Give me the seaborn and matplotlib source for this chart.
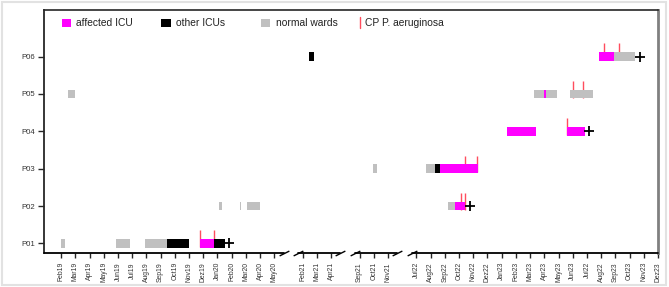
import calendar

import matplotlib as mpl
import matplotlib.pyplot as plt
import matplotlib.transforms as mtransforms
from matplotlib.patches import Rectangle
import pandas as pd
import seaborn as sns

mpl.use("Agg")
sns.set_style("ticks")
plt.rcParams["font.family"] = ["Liberation Sans", "DejaVu Sans"]

patients = ["P01", "P02", "P03", "P04", "P05", "P06"]

# compressed time axis: (first month, number of months) per visible segment
segments = [((2019, 2), 16), ((2021, 2), 3), ((2021, 9), 3), ((2022, 7), 18)]

tick_labels = [
    "Feb19", "Mar19", "Apr19", "May19", "Jun19", "Jul19", "Aug19", "Sep19",
    "Oct19", "Nov19", "Dez19", "Jan20", "Feb20", "Mar20", "Apr20", "May20",
    "Feb21", "Mar21", "Apr21",
    "Sep21", "Oct21", "Nov21",
    "Jul22", "Aug22", "Sep22", "Oct22", "Nov22", "Dez22", "Jan23", "Feb23",
    "Mar23", "Apr23", "May23", "Jun23", "Jul22", "Aug22", "Sep23", "Oct23",
    "Nov23", "Dez23",
]

# hospital stays
stay_patient = [
    "P01", "P01", "P01", "P01", "P01", "P01",
    "P02", "P02", "P02", "P02", "P02",
    "P03", "P03", "P03", "P03",
    "P04", "P04",
    "P05", "P05", "P05", "P05",
    "P06", "P06", "P06",
]
stay_ward = [
    "normal", "normal", "normal", "other", "affected", "other",
    "normal", "normal", "normal", "normal", "affected",
    "normal", "normal", "other", "affected",
    "affected", "affected",
    "normal", "normal", "affected", "normal",
    "other", "affected", "normal",
]
stay_start = [
    "2019-02-01", "2019-05-28", "2019-07-30", "2019-09-15", "2019-11-25", "2019-12-24",
    "2020-01-04", "2020-02-19", "2020-03-03", "2022-09-08", "2022-09-22",
    "2021-09-30", "2022-07-22", "2022-08-10", "2022-08-22",
    "2023-01-12", "2023-05-20",
    "2019-02-15", "2023-03-10", "2023-03-31", "2023-05-25",
    "2021-02-13", "2023-07-27", "2023-08-29",
]
stay_end = [
    "2019-02-08", "2019-06-26", "2019-09-15", "2019-10-31", "2019-12-24", "2020-01-17",
    "2020-01-11", "2020-02-21", "2020-03-31", "2022-09-22", "2022-10-13",
    "2021-10-07", "2022-08-10", "2022-08-22", "2022-11-12",
    "2023-03-13", "2023-06-26",
    "2019-02-28", "2023-04-27", "2023-04-04", "2023-07-14",
    "2021-02-23", "2023-08-29", "2023-10-12",
]

# CP P. aeruginosa isolates
isolate_patient = ["P01", "P01", "P02", "P02", "P03", "P03", "P04", "P05", "P05", "P06", "P06"]
isolate_date = [
    "2019-11-25", "2019-12-25", "2022-10-06", "2022-10-13", "2022-10-15",
    "2022-11-09", "2023-05-20", "2023-06-02", "2023-06-22", "2023-08-08", "2023-09-09",
]

# deaths
death_patient = ["P01", "P02", "P04", "P06"]
death_date = ["2020-01-26", "2022-10-25", "2023-07-05", "2023-10-23"]

ward_colors = {"affected": "#ff00ff", "other": "#000000", "normal": "#c0c0c0"}
red = "#ff4d5e"


def seg_starts():
    starts, p = [], 0
    for _, n in segments:
        starts.append(p)
        p += n + 1
    return starts


def date_pos(s):
    d = pd.Timestamp(s)
    for ((y0, m0), n), p0 in zip(segments, seg_starts()):
        k = (d.year - y0) * 12 + (d.month - m0)
        if 0 <= k < n:
            ndays = calendar.monthrange(d.year, d.month)[1]
            return p0 + k + (d.day - 1) / ndays
    raise ValueError(s)


ypos = {p: i + 1 for i, p in enumerate(patients)}

stays = pd.DataFrame(
    {"patient": stay_patient, "ward": stay_ward, "start": stay_start, "end": stay_end}
)
stays["x0"] = stays["start"].map(date_pos)
stays["x1"] = stays["end"].map(date_pos)
stays["y"] = stays["patient"].map(ypos)

iso = pd.DataFrame({"patient": isolate_patient, "date": isolate_date})
iso["x"] = iso["date"].map(date_pos)
iso["y"] = iso["patient"].map(ypos)

dead = pd.DataFrame({"patient": death_patient, "date": death_date})
dead["x"] = dead["date"].map(date_pos)
dead["y"] = dead["patient"].map(ypos)

fig = plt.figure(figsize=(6.69, 2.87), dpi=100)
ax = fig.add_axes([0.0658, 0.1185, 0.9178, 0.8465])

bar_h = 0.23
ax.vlines(iso["x"], iso["y"] - 0.1, iso["y"] + 0.35, color=red, lw=1.0, zorder=1)
for _, r in stays.iterrows():
    ax.barh(r["y"], r["x1"] - r["x0"], left=r["x0"], height=bar_h,
            color=ward_colors[r["ward"]], linewidth=0, zorder=2)
sns.scatterplot(data=dead, x="x", y="y", marker="+", s=60, color="k",
                linewidth=1.3, ax=ax, zorder=3, legend=False)

# axes
starts = seg_starts()
ticks = [p0 + k for p0, (_, n) in zip(starts, segments) for k in range(n)]
ax.set_xticks(ticks)
ax.set_xticklabels(tick_labels, rotation=90, fontsize=4.9, color="#333333")
ax.set_yticks(range(1, len(patients) + 1))
ax.set_yticklabels(patients, fontsize=5.6, color="#333333")
ax.set_xlim(-1.2, ticks[-1])
ax.set_ylim(0.745, 7.245)
ax.set_xlabel("")
ax.set_ylabel("")
ax.tick_params(axis="x", length=3.5, width=1.0, pad=3)
ax.tick_params(axis="y", length=4.2, width=1.0, pad=2.5)

ax.spines["top"].set_linewidth(1.2)
ax.spines["left"].set_linewidth(1.3)
ax.spines["right"].set_color("#808080")
ax.spines["right"].set_linewidth(2.0)
ax.spines["bottom"].set_visible(False)

# broken bottom axis with // marks
trans = mtransforms.blended_transform_factory(ax.transData, ax.transAxes)
slash = [(-1, -0.5), (1, 0.5)]
for i, (p0, (_, n)) in enumerate(zip(starts, segments)):
    a = -1.2 if i == 0 else p0 - 0.3
    b = ticks[-1] if i == len(segments) - 1 else p0 + n - 1 + 0.65
    ax.plot([a, b], [0, 0], color="k", lw=1.3, transform=trans, clip_on=False, zorder=5)
    if i > 0:
        ax.plot([a], [0], marker=slash, ms=7, mew=1.0, color="k",
                transform=trans, clip_on=False, zorder=5)
    if i < len(segments) - 1:
        ax.plot([b], [0], marker=slash, ms=7, mew=1.0, color="k",
                transform=trans, clip_on=False, zorder=5)

# legend, fixed spacing like the original
legend_items = [("affected ICU", "#ff00ff"), ("other ICUs", "#000000"), ("normal wards", "#c0c0c0")]
for j, (lab, col) in enumerate(legend_items):
    x0 = 0.0288 + j * 0.1625
    ax.add_patch(Rectangle((x0, 0.9313), 0.0147, 0.0317, transform=ax.transAxes,
                           color=col, lw=0, clip_on=False))
    ax.text(x0 + 0.0233, 0.9473, lab, transform=ax.transAxes, fontsize=7.4,
            va="center", ha="left", color="#222222")
ax.plot([0.5147, 0.5147], [0.925, 0.970], color=red, lw=1.0, transform=ax.transAxes)
ax.text(0.5228, 0.9473, "CP P. aeruginosa", transform=ax.transAxes, fontsize=7.4,
        va="center", ha="left", color="#222222")

# light frame around the picture
fig.patches.append(Rectangle((0.003, 0.008), 0.992, 0.985, transform=fig.transFigure,
                             fill=False, edgecolor="#e2e2e2", lw=1.5))

fig.savefig("out.png", dpi=100)
